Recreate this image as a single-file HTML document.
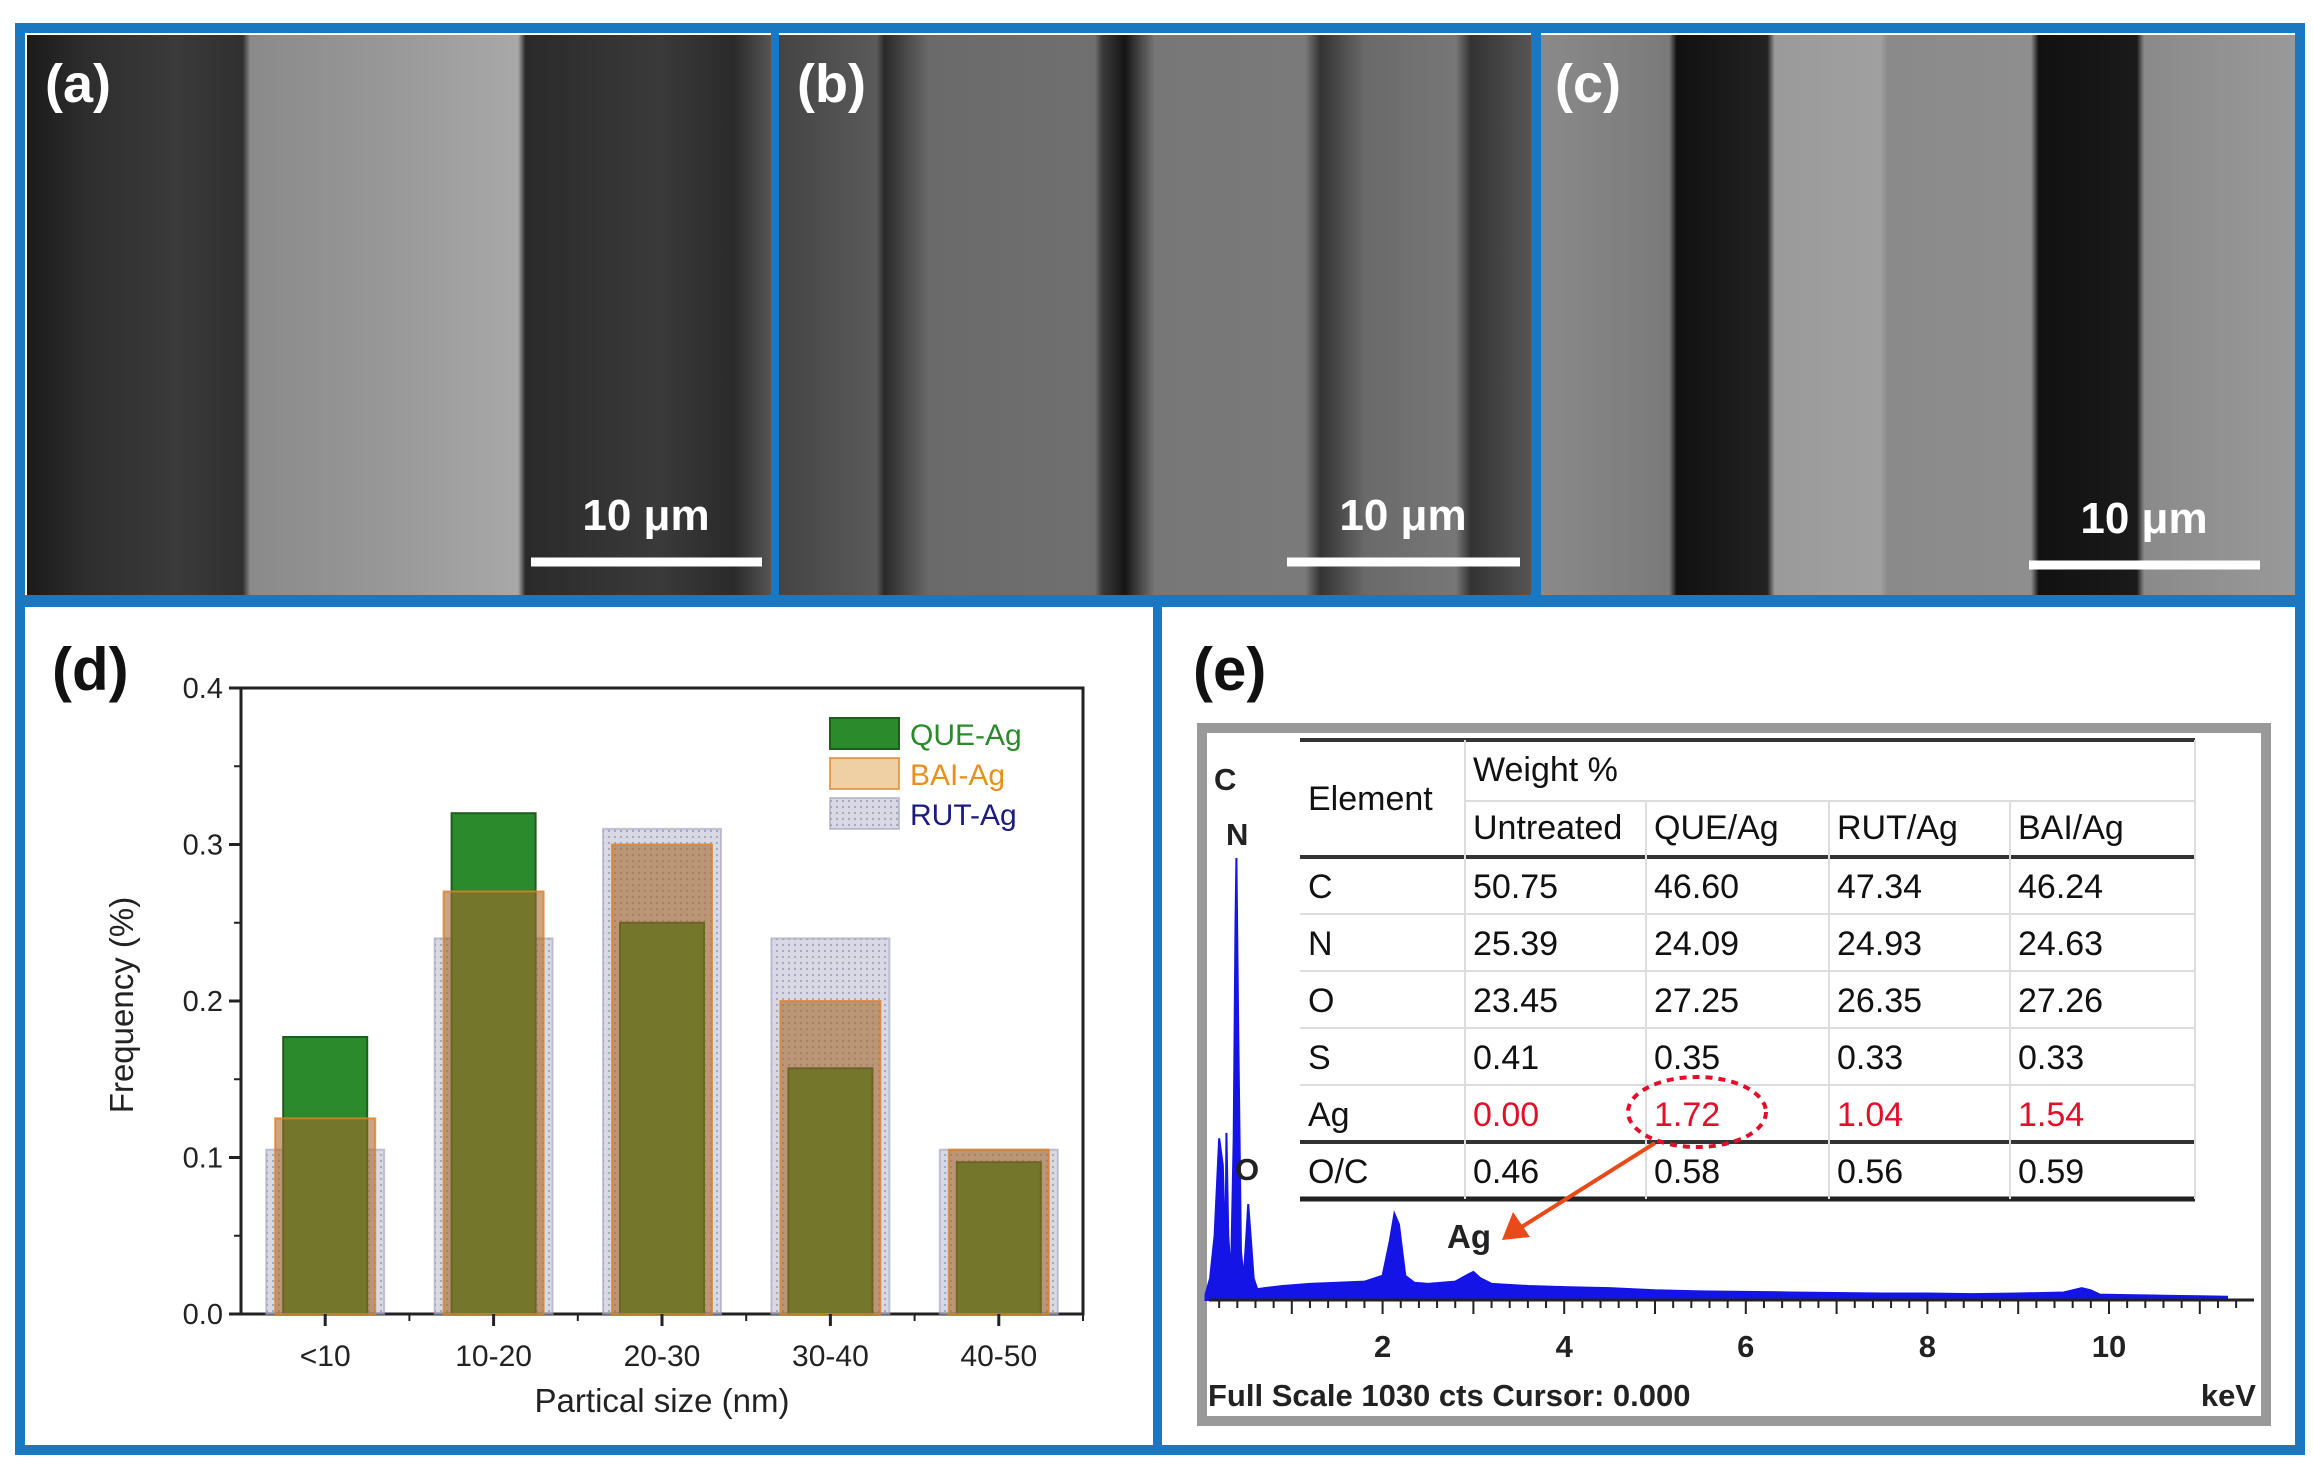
<!DOCTYPE html>
<html><head><meta charset="utf-8"><style>
html,body{margin:0;padding:0;background:#fff;}
svg{display:block;font-family:"Liberation Sans",Arial,sans-serif;}
</style></head><body>
<svg id="fig" width="2313" height="1468" viewBox="0 0 2313 1468" xmlns="http://www.w3.org/2000/svg">
<defs>
<linearGradient id="ga" x1="0" x2="1" y1="0" y2="0">
<stop offset="0" stop-color="#1a1a1a"/><stop offset="0.08" stop-color="#2e2e2e"/><stop offset="0.2" stop-color="#3a3a3a"/><stop offset="0.29" stop-color="#303030"/>
<stop offset="0.3" stop-color="#8a8a8a"/><stop offset="0.5" stop-color="#999"/><stop offset="0.66" stop-color="#a8a8a8"/>
<stop offset="0.67" stop-color="#2a2a2a"/><stop offset="0.85" stop-color="#3a3a3a"/><stop offset="0.95" stop-color="#2a2a2a"/><stop offset="1" stop-color="#555"/></linearGradient>
<linearGradient id="gb" x1="0" x2="1" y1="0" y2="0">
<stop offset="0" stop-color="#444"/><stop offset="0.13" stop-color="#5a5a5a"/><stop offset="0.14" stop-color="#2a2a2a"/><stop offset="0.2" stop-color="#6a6a6a"/>
<stop offset="0.42" stop-color="#707070"/><stop offset="0.43" stop-color="#3a3a3a"/><stop offset="0.46" stop-color="#151515"/><stop offset="0.5" stop-color="#777"/>
<stop offset="0.7" stop-color="#7a7a7a"/><stop offset="0.72" stop-color="#333"/><stop offset="0.78" stop-color="#6a6a6a"/><stop offset="0.9" stop-color="#777"/><stop offset="0.92" stop-color="#333"/><stop offset="1" stop-color="#555"/></linearGradient>
<linearGradient id="gc" x1="0" x2="1" y1="0" y2="0">
<stop offset="0" stop-color="#8a8a8a"/><stop offset="0.17" stop-color="#7a7a7a"/><stop offset="0.18" stop-color="#111"/><stop offset="0.3" stop-color="#222"/>
<stop offset="0.31" stop-color="#9a9a9a"/><stop offset="0.45" stop-color="#a0a0a0"/><stop offset="0.46" stop-color="#8a8a8a"/><stop offset="0.65" stop-color="#8e8e8e"/>
<stop offset="0.66" stop-color="#111"/><stop offset="0.79" stop-color="#1a1a1a"/><stop offset="0.8" stop-color="#8a8a8a"/><stop offset="1" stop-color="#999"/></linearGradient>
<pattern id="dots" width="6" height="6" patternUnits="userSpaceOnUse"><rect width="6" height="6" fill="rgba(185,185,210,0.55)"/><circle cx="3" cy="3" r="1.2" fill="rgba(120,120,150,0.5)"/></pattern>
</defs>

<rect x="0" y="0" width="2313" height="1468" fill="#fff"/>
<rect x="20" y="28" width="2280" height="1422" fill="#fff" stroke="#1a78c2" stroke-width="10"/>

<g>
<rect x="27" y="35" width="744" height="560" fill="url(#ga)"/>
<text x="45" y="102" font-size="54" font-weight="bold" fill="#fff">(a)</text>
<line x1="531" y1="562" x2="762" y2="562" stroke="#fff" stroke-width="9"/>
<text x="646" y="530" font-size="44" font-weight="bold" fill="#fff" text-anchor="middle">10 μm</text>
</g>
<rect x="771" y="33" width="8" height="565" fill="#1a78c2"/>
<g>
<rect x="779" y="35" width="752" height="560" fill="url(#gb)"/>
<text x="797" y="102" font-size="54" font-weight="bold" fill="#fff">(b)</text>
<line x1="1287" y1="562" x2="1520" y2="562" stroke="#fff" stroke-width="9"/>
<text x="1403" y="530" font-size="44" font-weight="bold" fill="#fff" text-anchor="middle">10 μm</text>
</g>
<rect x="1531" y="33" width="10" height="565" fill="#1a78c2"/>
<g>
<rect x="1541" y="35" width="754" height="560" fill="url(#gc)"/>
<text x="1555" y="102" font-size="54" font-weight="bold" fill="#fff">(c)</text>
<line x1="2029" y1="565" x2="2260" y2="565" stroke="#fff" stroke-width="9"/>
<text x="2144" y="533" font-size="44" font-weight="bold" fill="#fff" text-anchor="middle">10 μm</text>
</g>
<rect x="20" y="595" width="2280" height="12" fill="#1a78c2"/>
<rect x="1153" y="600" width="9" height="850" fill="#1a78c2"/>

<text x="52" y="690" font-size="60" font-weight="bold" fill="#111">(d)</text>
<g id="chartD"></g>

<text x="1193" y="690" font-size="60" font-weight="bold" fill="#111">(e)</text>
<rect x="1202" y="728" width="1064" height="693" fill="#fff" stroke="#999" stroke-width="10"/>
<g id="spec"></g>
<g id="tbl"></g>
<text x="1208" y="1406" font-size="31" font-weight="bold" fill="#222">Full Scale 1030 cts Cursor: 0.000</text>
<text x="2256" y="1406" font-size="31" font-weight="bold" fill="#222" text-anchor="end">keV</text>
</svg>
<script>
const categories = ["<10","10-20","20-30","30-40","40-50"];
const rutValues = [0.105,0.24,0.31,0.24,0.105];
const baiValues = [0.125,0.27,0.30,0.20,0.105];
const queValues = [0.177,0.32,0.25,0.157,0.097];
const yTicks = ["0.0","0.1","0.2","0.3","0.4"];
const legendLabels = ["QUE-Ag","BAI-Ag","RUT-Ag"];

const specKeV = [0.05,0.1,0.15,0.2,0.24,0.27,0.28,0.3,0.33,0.36,0.38,0.39,0.41,0.44,0.47,0.5,0.52,0.55,0.58,0.62,0.7,0.9,1.2,1.5,1.8,2.0,2.08,2.13,2.18,2.25,2.35,2.5,2.8,2.95,3.0,3.08,3.2,3.6,4.0,4.5,5.0,5.5,6.0,6.5,7.0,7.5,8.0,8.5,9.0,9.5,9.7,9.8,9.9,10.2,10.6,11.0,11.3];
const specCts = [10,40,120,300,250,80,310,120,40,300,700,820,500,90,40,120,178,110,40,20,22,26,30,32,34,45,110,160,140,45,32,30,34,48,52,40,30,26,24,22,18,16,15,14,13,12,12,11,12,14,22,18,10,9,8,7,6];
const specXTicks = [2,4,6,8,10];

const tHeader = ["Untreated","QUE/Ag","RUT/Ag","BAI/Ag"];
const tRows = [["C","50.75","46.60","47.34","46.24"],["N","25.39","24.09","24.93","24.63"],["O","23.45","27.25","26.35","27.26"],["S","0.41","0.35","0.33","0.33"],["Ag","0.00","1.72","1.04","1.54"],["O/C","0.46","0.58","0.56","0.59"]];

const NS="http://www.w3.org/2000/svg";
function mk(parent,tag,attrs,text){const e=document.createElementNS(NS,tag);for(const k in attrs)e.setAttribute(k,attrs[k]);if(text!==undefined)e.textContent=text;parent.appendChild(e);return e;}

(function(){
const g=document.getElementById('chartD');
const L=241,R=1083,T=688,B=1314,ymax=0.4;
const y=v=>B-(v/ymax)*(B-T);
const step=(R-L)/5;
const xc=i=>L+step*(i+0.5);
mk(g,'rect',{x:L,y:T,width:R-L,height:B-T,fill:'none',stroke:'#222','stroke-width':3});
function bars(vals,w,fill,stroke,name){
 vals.forEach((v,i)=>{const r=mk(g,'rect',{x:xc(i)-w/2,y:y(v),width:w,height:B-y(v),fill:fill,stroke:stroke,'stroke-width':2});
 
 });
}
bars(rutValues,118,'url(#dots)','rgba(160,160,190,0.6)','bar-rut');
bars(queValues,84,'#2b8a2b','#1d5e1d','bar-que');
bars(baiValues,100,'rgba(165,105,45,0.6)','rgba(220,130,40,0.8)','bar-bai');
yTicks.forEach((t,i)=>{const v=parseFloat(t);const yy=y(v);
 mk(g,'line',{x1:L-12,y1:yy,x2:L,y2:yy,stroke:'#222','stroke-width':3});
 if(i<4)mk(g,'line',{x1:L-7,y1:y(v+0.05),x2:L,y2:y(v+0.05),stroke:'#222','stroke-width':2});
 const tx=mk(g,'text',{x:L-18,y:yy+10,'font-size':29,'text-anchor':'end',fill:'#222'},t);
 
 });
categories.forEach((c,i)=>{
 mk(g,'line',{x1:xc(i),y1:B,x2:xc(i),y2:B+12,stroke:'#222','stroke-width':3});
 mk(g,'line',{x1:L+step*(i+1),y1:B,x2:L+step*(i+1),y2:B+7,stroke:'#222','stroke-width':2});
 const tx=mk(g,'text',{x:xc(i),y:B+52,'font-size':30,'text-anchor':'middle',fill:'#222'},c);
 
 });
const xt=mk(g,'text',{x:(L+R)/2,y:1412,'font-size':33,'text-anchor':'middle',fill:'#222'},'Partical size (nm)');


const yt=mk(g,'text',{x:0,y:0,'font-size':33,'text-anchor':'middle',fill:'#222',transform:'translate(133,1005) rotate(-90)'},'Frequency (%)');


const lf=['#2b8a2b','rgba(225,170,90,0.55)','url(#dots)'];
const ls=['#1d5e1d','rgba(220,130,40,0.7)','rgba(160,160,190,0.6)'];
const lc=['#2b8a2b','#e8901a','#1a1a80'];
legendLabels.forEach((l,i)=>{const yy=718+i*40;
 const r=mk(g,'rect',{x:830,y:yy,width:69,height:31,fill:lf[i],stroke:ls[i],'stroke-width':2});
 
 
 const t=mk(g,'text',{x:910,y:yy+27,'font-size':30,fill:lc[i]},l);
 
 });
})();

(function(){
const g=document.getElementById('spec');
const x0=1201,pk=90.8,yb=1300,pc=0.539;
const X=k=>x0+k*pk, Y=c=>yb-c*pc;
let d='M'+X(specKeV[0])+','+yb;
specKeV.forEach((k,i)=>{d+=' L'+X(k)+','+Y(specCts[i]);});
d+=' L'+X(specKeV[specKeV.length-1])+','+yb+' Z';
const p=mk(g,'path',{d:d,fill:'#1414e6',stroke:'#1414e6','stroke-width':2});


mk(g,'line',{x1:1209,y1:yb,x2:2254,y2:yb,stroke:'#222','stroke-width':3});
for(let k=0.2;k<11.4;k+=0.2){mk(g,'line',{x1:X(k),y1:yb,x2:X(k),y2:yb+(Math.abs(k-Math.round(k))<0.01?14:8),stroke:'#222','stroke-width':2});}
specXTicks.forEach(k=>{const t=mk(g,'text',{x:X(k),y:1357,'font-size':31,'font-weight':'bold','text-anchor':'middle',fill:'#222'},String(k));
 
 });
const lab=[['C',1214,790],['N',1226,845],['O',1235,1180]];
lab.forEach(a=>{const t=mk(g,'text',{x:a[1],y:a[2],'font-size':31,'font-weight':'bold',fill:'#222'},a[0]);
 
 });
const ag=mk(g,'text',{x:1447,y:1248,'font-size':33,'font-weight':'bold',fill:'#222'},'Ag');


})();

(function(){
const g=document.getElementById('tbl');
const cols=[1300,1465,1646,1829,2010,2195];
const rows=[857,914,971,1028,1085,1142,1199];
mk(g,'rect',{x:1300,y:740,width:895,height:459,fill:'#fff'});
mk(g,'line',{x1:1300,y1:740,x2:2195,y2:740,stroke:'#333','stroke-width':4});
mk(g,'line',{x1:1465,y1:801,x2:2195,y2:801,stroke:'#ddd','stroke-width':2});
mk(g,'line',{x1:1300,y1:857,x2:2195,y2:857,stroke:'#333','stroke-width':4});
mk(g,'line',{x1:1300,y1:1142,x2:2195,y2:1142,stroke:'#333','stroke-width':4});
mk(g,'line',{x1:1300,y1:1199,x2:2195,y2:1199,stroke:'#222','stroke-width':5});
[914,971,1028,1085].forEach(yy=>mk(g,'line',{x1:1300,y1:yy,x2:2195,y2:yy,stroke:'#ddd','stroke-width':2}));
cols.slice(1,5).forEach(xx=>mk(g,'line',{x1:xx,y1:xx===1465?740:801,x2:xx,y2:1199,stroke:'#ddd','stroke-width':2}));
mk(g,'line',{x1:2195,y1:740,x2:2195,y2:1199,stroke:'#ddd','stroke-width':2});
const T=(x,y,s,c,n)=>{const t=mk(g,'text',{x:x,y:y,'font-size':34,fill:c||'#111'},s);
 
 return t;};
T(1308,810,'Element','#111','header-element');
T(1473,781,'Weight %','#111','header-weight');
tHeader.forEach((h,i)=>T(cols[i+1]+8,839,h,'#111','header-col'));
tRows.forEach((r,ri)=>{r.forEach((v,ci)=>{const red=(r[0]==='Ag'&&ci>0);
 T(cols[ci]+8,rows[ri]+41,v,red?'#e0102a':'#111','table-cell');});});
const el=mk(g,'ellipse',{cx:1697,cy:1112,rx:69,ry:35,fill:'none',stroke:'#e0102a','stroke-width':4,'stroke-dasharray':'7,6'});


const ar=mk(g,'line',{x1:1655,y1:1143,x2:1520,y2:1228,stroke:'#e84a1a','stroke-width':4});


mk(g,'polygon',{points:'1502,1240 1513,1212 1530,1237',fill:'#e84a1a'});
})();
</script>
</body></html>
